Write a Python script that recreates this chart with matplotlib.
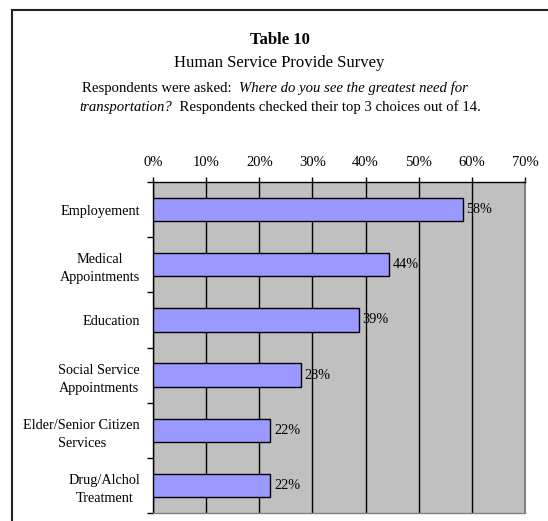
import numpy as np
import matplotlib
matplotlib.use("Agg")
import matplotlib.pyplot as plt
from matplotlib.lines import Line2D
from matplotlib.offsetbox import TextArea, HPacker, AnnotationBbox
from matplotlib.ticker import FixedLocator, PercentFormatter

plt.rcParams['font.family'] = ['Liberation Serif', 'DejaVu Serif']

# data
categories = ["Employement", "Medical\nAppointments", "Education",
              "Social Service\nAppointments", "Elder/Senior Citizen\nServices",
              "Drug/Alchol\nTreatment"]
values = [58.3, 44.4, 38.8, 27.8, 22.1, 22.1]
x_ticks = [0, 10, 20, 30, 40, 50, 60, 70]

fig = plt.figure(figsize=(5.48, 5.21), dpi=100)
ax = fig.add_axes([153/548, 8/521, 372/548, 331/521])

pos = np.arange(len(categories))
ax.barh(pos, values, height=0.42, color='#9999FF', edgecolor='black', lw=1, zorder=3)
for p, v in zip(pos, values):
    ax.annotate(f"{v:.0f}%", (v, p), xytext=(2.5, 0), textcoords='offset points',
                va='center', ha='left', fontsize=10.3, zorder=4)

ax.set_facecolor('#C0C0C0')
ax.set_xlim(0, 70)
ax.set_ylim(len(categories) - 0.5, -0.5)

ax.xaxis.tick_top()
ax.set_xticks(x_ticks)
ax.xaxis.set_major_formatter(PercentFormatter(decimals=0))
ax.tick_params(axis='x', direction='out', length=3.6, width=1, pad=6,
               labelsize=10.5, color='black')
ax.xaxis.grid(True, color='black', lw=1)
ax.set_axisbelow(True)

ax.set_yticks(pos)
ax.set_yticklabels(categories, fontsize=10.3, linespacing=1.5, multialignment='center')
ax.yaxis.set_minor_locator(FixedLocator(np.arange(len(categories) + 1) - 0.5))
ax.tick_params(axis='y', which='major', length=0, pad=9.4)
ax.tick_params(axis='y', which='minor', length=4.3, width=1, color='black')

ax.spines['top'].set_color('black')
ax.spines['left'].set_color('black')
ax.spines['right'].set_color('#808080')
ax.spines['bottom'].set_color('#808080')
for s in ax.spines.values():
    s.set_linewidth(1)
ax.spines['right'].set_linewidth(1.5)

# titles
fig.text(0.51, 1 - 40/521, "Table 10", ha='center', va='center',
         fontsize=12, fontweight='bold')
fig.text(0.51, 1 - 63/521, "Human Service Provide Survey", ha='center',
         va='center', fontsize=12)

def mixed_line(parts, x, y):
    boxes = [TextArea(t, textprops=dict(fontsize=10.6, fontstyle=st)) for t, st in parts]
    pack = HPacker(children=boxes, pad=0, sep=0, align='baseline')
    ab = AnnotationBbox(pack, (x, y), xycoords='figure fraction',
                        box_alignment=(0.5, 0.5), frameon=False, pad=0)
    fig.add_artist(ab)

mixed_line([("Respondents were asked:  ", 'normal'),
            ("Where do you see the greatest need for", 'italic')], 275/548, 1 - 88/521)
mixed_line([("transportation?", 'italic'),
            ("  Respondents checked their top 3 choices out of 14.", 'normal')],
           280/548, 1 - 107/521)

# outer frame (left and top edges visible)
fig.add_artist(Line2D([12/548, 12/548], [0, 1 - 10/521], color='#222222', lw=1.5,
                      transform=fig.transFigure))
fig.add_artist(Line2D([12/548, 1], [1 - 10/521, 1 - 10/521], color='#222222', lw=1.5,
                      transform=fig.transFigure))

fig.savefig("out.png", dpi=100)
